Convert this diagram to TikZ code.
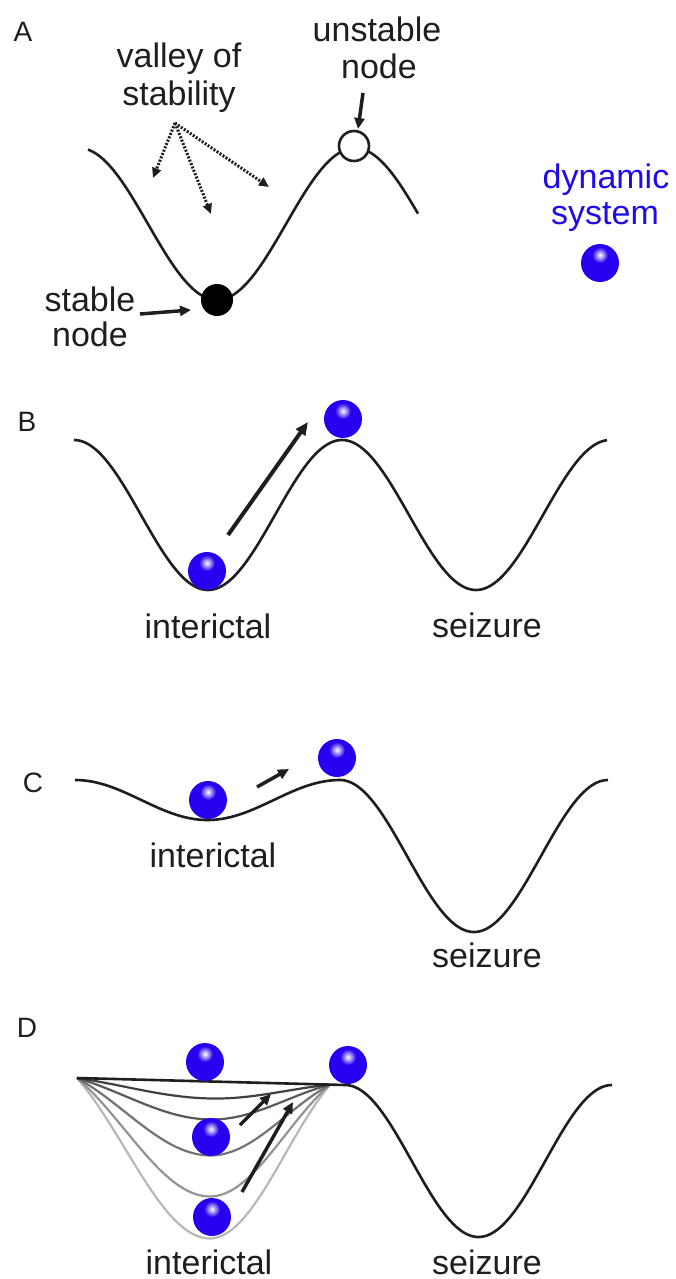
\documentclass[tikz,border=0pt]{standalone}
\usepackage{fontspec}
\setmainfont{Liberation Sans}
\usetikzlibrary{arrows.meta}
\definecolor{ballblue}{RGB}{40,0,240}
\definecolor{textblue}{RGB}{30,10,235}
\definecolor{ink}{RGB}{30,30,30}
\newcommand{\myball}[3]{%
  \fill[ballblue] (#2,#3) circle[radius=19];
  \shade[inner color=white, outer color=ballblue] (#2,#3-8) circle[radius=8];
  \coordinate (#1) at (#2,#3);
}
\newcommand{\mywell}[2]{%
  \draw[#2, line width=2.2pt, line join=round]
    plot[domain=0:1, samples=50, smooth] ({77+132*\x},{1078+7*(132*\x)/268 + #1*(0.6*sin(90*\x)+0.4*sin(90*\x)*sin(90*\x))})
    -- plot[domain=0:1, samples=50, smooth] ({209+121*\x},{1078+7*(132+121*\x)/268 + #1*(0.6*cos(90*\x)+0.4*cos(90*\x)*cos(90*\x))});
}
\begin{document}
\begin{tikzpicture}[x=1pt,y=-1pt,
  curve/.style={line width=2.6pt, ink, line join=round},
  lbl/.style={font=\fontsize{34}{40}\selectfont, text=ink, inner sep=0pt, anchor=base},
  bluelbl/.style={font=\fontsize{34}{40}\selectfont, text=textblue, inner sep=0pt, anchor=base},
  panel/.style={font=\fontsize{28}{32}\selectfont, text=ink, inner sep=0pt},
  bigarrow/.style={line width=4pt, ink, -{Triangle[length=13pt,width=11pt]}},
  midarrow/.style={line width=3.5pt, ink, -{Triangle[length=11pt,width=10pt]}},
  dotarrow/.style={line width=3pt, ink, dash pattern=on 2pt off 1.6pt, -{Triangle[length=10pt,width=9pt]}},
]
\useasboundingbox (0,0) rectangle (675,1279);

% ---------------- Panel A ----------------
\node[panel] (labA) at (23,32) {A};
\draw[curve] plot[domain=88:418, samples=120, smooth] (\x,{224-76*cos((\x-355)/138*180)});
\fill[black] (217,300) circle[radius=16];
\coordinate (stab) at (217,300);
\filldraw[fill=white, draw=ink, line width=2.6pt] (354,146) circle[radius=15];
\coordinate (unstab) at (354,146);
\node[lbl] (valley) at (179,68) {valley of};
\node[lbl] (stability) at (179,106) {stability};
\node[lbl] (unstable) at (377,42) {unstable};
\node[lbl] (unode) at (379,79) {node};
\node[lbl] (stable) at (90,311) {stable};
\node[lbl] (snode) at (90,346) {node};
\coordinate (dotO) at (175,123);
\coordinate (dotE1) at (153,178);
\coordinate (dotE2) at (211,214);
\coordinate (dotE3) at (269,187);
\draw[dotarrow] (dotO) -- (dotE1);
\draw[dotarrow] (dotO) -- (dotE2);
\draw[dotarrow] (dotO) -- (dotE3);
\coordinate (sa1) at (140,314);
\coordinate (sa2) at (191,310);
\draw[midarrow] (sa1) -- (sa2);
\coordinate (ua1) at (363,93);
\coordinate (ua2) at (358,129);
\draw[midarrow] (ua1) -- (ua2);
\node[bluelbl] (dyn) at (606,188) {dynamic};
\node[bluelbl] (sys) at (605,224) {system};
\myball{ballA}{600}{263}

% ---------------- Panel B ----------------
\node[panel] (labB) at (27,422) {B};
\draw[curve] plot[domain=74:607, samples=200, smooth] (\x,{515-75*cos((\x-74)/268*360)});
\myball{ballB1}{207}{571}
\myball{ballB2}{343}{419}
\coordinate (ba1) at (228,535);
\coordinate (ba2) at (308,422);
\draw[bigarrow] (ba1) -- (ba2);
\node[lbl] (interB) at (208,638) {interictal};
\node[lbl] (seizB) at (487,637) {seizure};

% ---------------- Panel C ----------------
\node[panel] (labC) at (33,783) {C};
\draw[curve] plot[domain=75:340, samples=100, smooth] (\x,{800-20*cos((\x-75)/265*360)})
  -- plot[domain=340:608, samples=100, smooth] (\x,{856-76*cos((\x-340)/268*360)});
\myball{ballC1}{208}{800}
\myball{ballC2}{337}{758}
\coordinate (ca1) at (257,787);
\coordinate (ca2) at (289,769);
\draw[midarrow] (ca1) -- (ca2);
\node[lbl] (interC) at (213,867) {interictal};
\node[lbl] (seizC) at (487,967) {seizure};

% ---------------- Panel D ----------------
\node[panel] (labD) at (27,1028) {D};
\mywell{157}{black!28}
\mywell{115}{black!42}
\mywell{74}{black!55}
\mywell{38}{black!65}
\mywell{17}{black!75}
\draw[curve] (77,1078) -- (345,1085)
  -- plot[domain=345:612, samples=100, smooth] (\x,{1161-76*cos((\x-345)/267*360)});
\myball{ballD1}{205}{1062}
\myball{ballD2}{211}{1137}
\myball{ballD3}{212}{1217}
\myball{ballD4}{348}{1065}
\coordinate (da1) at (240,1125);
\coordinate (da2) at (271,1094);
\draw[midarrow] (da1) -- (da2);
\coordinate (db1) at (242,1192);
\coordinate (db2) at (293,1102);
\draw[midarrow] (db1) -- (db2);
\node[lbl] (interD) at (209,1274) {interictal};
\node[lbl] (seizD) at (487,1274) {seizure};
\end{tikzpicture}
\end{document}
